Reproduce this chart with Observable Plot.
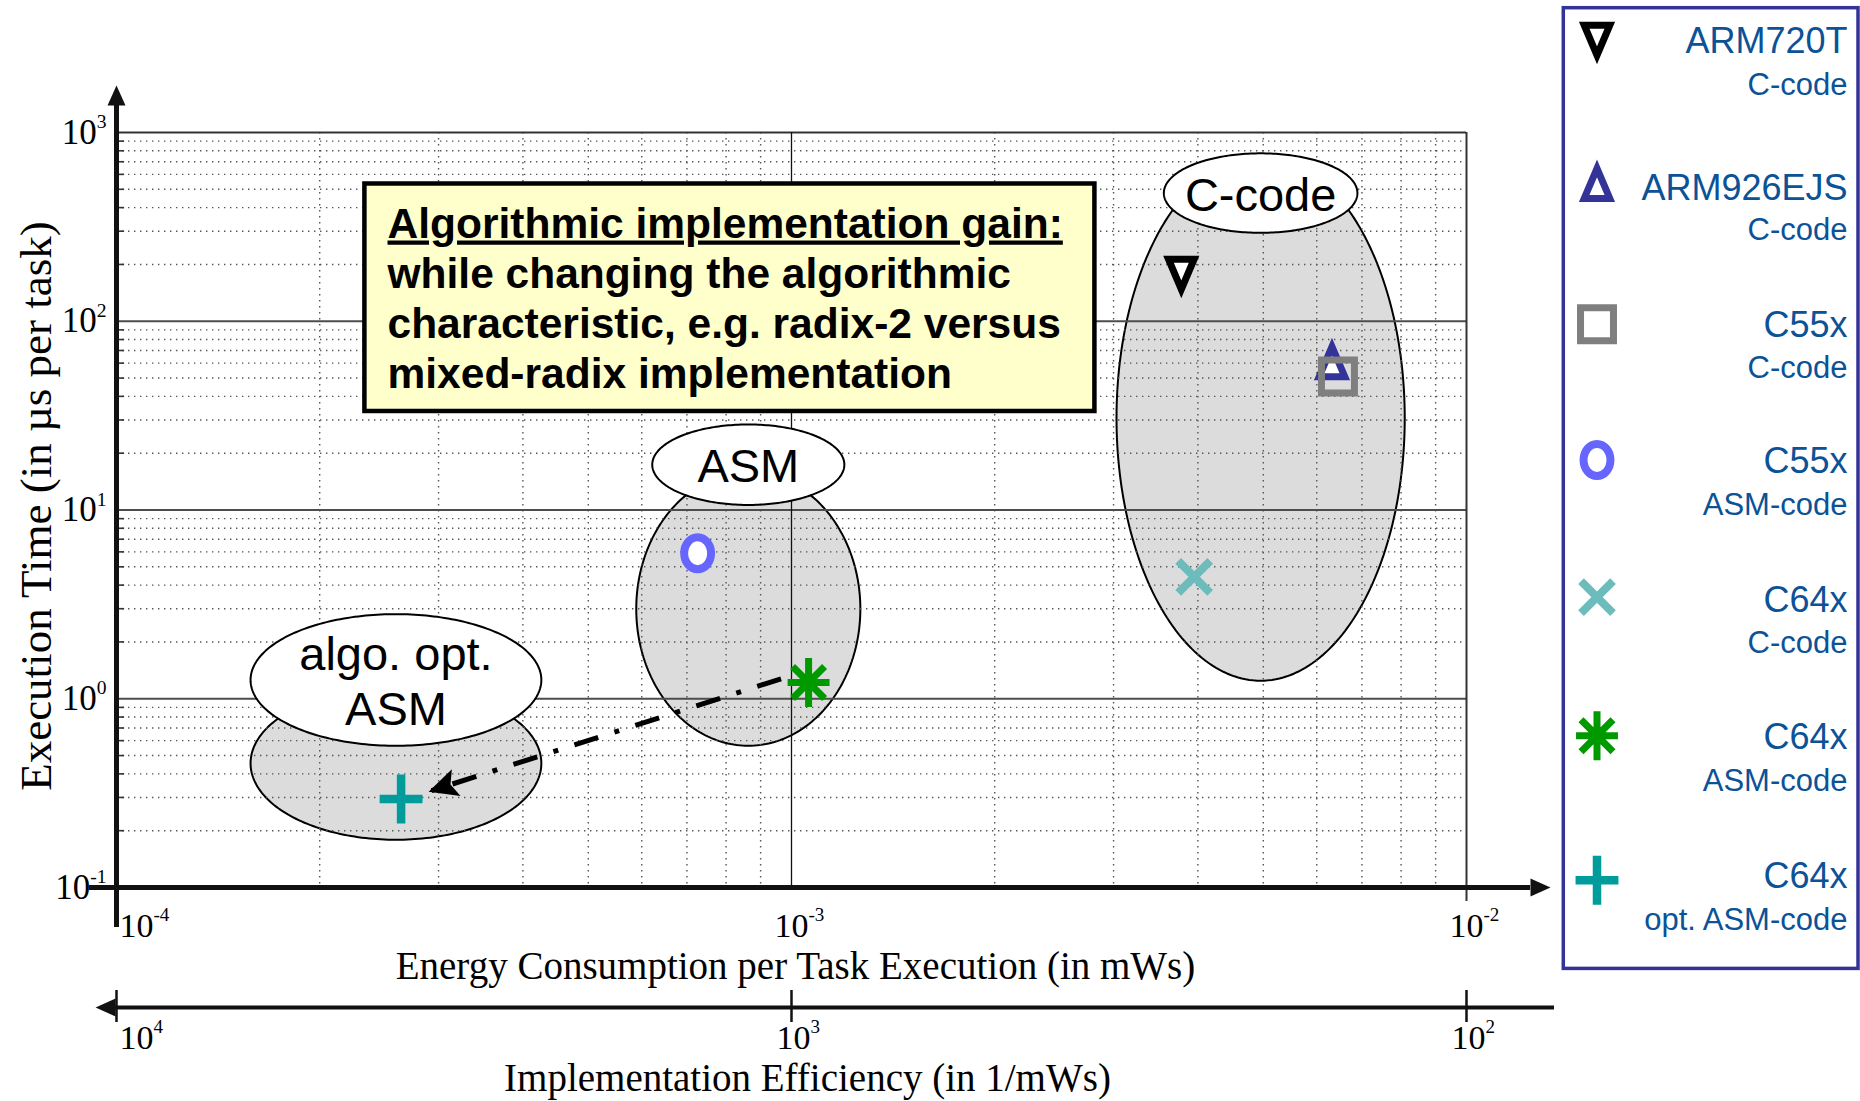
<!DOCTYPE html>
<html>
<head>
<meta charset="utf-8">
<script src="https://cdn.jsdelivr.net/npm/d3@7"></script>
<script src="https://cdn.jsdelivr.net/npm/@observablehq/plot@0.6"></script>
<style>
  html, body { margin: 0; padding: 0; background: #fff; }
  #chart { position: relative; width: 1860px; height: 1101px; overflow: hidden; }
  #chart > svg { display: block; }
  #legend { position: absolute; left: 1555px; top: 0; }
</style>
</head>
<body>
<div id="chart"></div>
<script>
// ---- Measurements: one entry per processor / code variant ----
const processors = ["ARM720T", "ARM926EJS", "C55x", "C55x", "C64x", "C64x", "C64x"];
const codeTypes  = ["C-code", "C-code", "C-code", "ASM-code", "C-code", "ASM-code", "opt. ASM-code"];
// energy per task execution (mWs)
const energy   = [3.78e-3, 6.32e-3, 6.45e-3, 7.26e-4, 3.95e-3, 1.06e-3, 2.64e-4];
// execution time (µs per task)
const execTime = [172, 63, 51, 5.9, 4.42, 1.22, 0.294];
const markerShapes = ["triangleDown", "triangleUp", "square", "ring", "cross", "asterisk", "plus"];
const markerColors = ["#000000", "#333399", "#7f7f7f", "#6666ff", "#6cbcbc", "#009900", "#009b9b"];
const markerFills  = ["white", "white", "none", "white", "none", "none", "none"];
const markerWidths = [7, 7, 7, 8, 8, 7, 8.5];

// ---- Clusters (centre in log10 units, half-extent in decades) ----
const clusterNames  = ["C-code", "ASM", "algo. opt.\nASM"];
const clusterLogE   = [-2.305, -3.064, -3.586];
const clusterLogT   = [1.487, 0.476, -0.342];
const clusterSpanE  = [0.2135, 0.166, 0.2154];
const clusterSpanT  = [1.3915, 0.725, 0.405];
const badgeLogT     = [2.679, 1.240, 0.0995];
const badgeSpanE    = [0.1434, 0.1423, 0.2154];
const badgeSpanT    = [0.2106, 0.2132, 0.3487];

// ---- Gain arrow: C64x ASM-code -> C64x opt. ASM-code ----
const gainFrom = {energy: 9.65e-4, time: 1.276};
const gainTo   = {energy: 2.90e-4, time: 0.322};

// ---- Axis ticks ----
const energyTicks = [1e-4, 1e-3, 1e-2];
const energyTickLabels = ["10^-4", "10^-3", "10^-2"];
const efficiencyTickLabels = ["10^4", "10^3", "10^2"];
const timeTicks = [0.1, 1, 10, 100, 1000];
const timeTickLabels = ["10^-1", "10^0", "10^1", "10^2", "10^3"];

// ---- Annotation ----
const noteTitle = "Algorithmic implementation gain:";
const noteBody = ["while changing the algorithmic", "characteristic, e.g. radix-2 versus", "mixed-radix implementation"];

// ---------------------------------------------------------------
// Marker shapes (size -> r = sqrt(size / PI))
const rOf = (s) => Math.sqrt(s / Math.PI);
const symbols = {
  triangleDown: {draw(c, s) { const r = rOf(s); c.moveTo(-0.8 * r, -1.1 * r); c.lineTo(0.8 * r, -1.1 * r); c.lineTo(0, 0.78 * r); c.closePath(); }},
  triangleUp:   {draw(c, s) { const r = rOf(s); c.moveTo(-0.8 * r, 1.1 * r); c.lineTo(0.8 * r, 1.1 * r); c.lineTo(0, -0.78 * r); c.closePath(); }},
  square:       {draw(c, s) { const h = 1.03 * rOf(s); c.moveTo(-h, -h); c.lineTo(h, -h); c.lineTo(h, h); c.lineTo(-h, h); c.closePath(); }},
  ring: {draw(c, s) {
    const r = rOf(s), rx = 0.84 * r, ry = r, k = 0.5523;
    c.moveTo(rx, 0);
    c.bezierCurveTo(rx, k * ry, k * rx, ry, 0, ry);
    c.bezierCurveTo(-k * rx, ry, -rx, k * ry, -rx, 0);
    c.bezierCurveTo(-rx, -k * ry, -k * rx, -ry, 0, -ry);
    c.bezierCurveTo(k * rx, -ry, rx, -k * ry, rx, 0);
    c.closePath();
  }},
  cross: {draw(c, s) { const r = rOf(s); c.moveTo(-r, -r); c.lineTo(r, r); c.moveTo(-r, r); c.lineTo(r, -r); }},
  asterisk: {draw(c, s) {
    const r = rOf(s);
    c.moveTo(0, -1.53 * r); c.lineTo(0, 1.53 * r);
    c.moveTo(-1.31 * r, 0); c.lineTo(1.31 * r, 0);
    c.moveTo(-r, -r); c.lineTo(r, r);
    c.moveTo(-r, r); c.lineTo(r, -r);
  }},
  plus: {draw(c, s) { const r = rOf(s); c.moveTo(0, -1.53 * r); c.lineTo(0, 1.53 * r); c.moveTo(-1.34 * r, 0); c.lineTo(1.34 * r, 0); }}
};
// Arrow heads, tip at the origin pointing to +x
const gainHead = {draw(c) { c.moveTo(0, 0); c.lineTo(-29, -14); c.lineTo(-23, 0); c.lineTo(-29, 14); c.closePath(); }};
const axisHead = {draw(c) { c.moveTo(0, 0); c.lineTo(-20, -9); c.lineTo(-20, 9); c.closePath(); }};

// ---------------------------------------------------------------
const points = processors.map((p, i) => ({processor: p, code: codeTypes[i], energy: energy[i], time: execTime[i]}));

function outline(logE, logT, spanE, spanT, key) {
  return d3.range(0, 240).map((k) => {
    const a = (k / 240) * 2 * Math.PI;
    return {key, energy: 10 ** (logE + spanE * Math.cos(a)), time: 10 ** (logT + spanT * Math.sin(a))};
  });
}
const clusterShapes = clusterNames.flatMap((n, i) => outline(clusterLogE[i], clusterLogT[i], clusterSpanE[i], clusterSpanT[i], n));
const badgeShapes = clusterNames.flatMap((n, i) => outline(clusterLogE[i], badgeLogT[i], badgeSpanE[i], badgeSpanT[i], n));
const badges = clusterNames.map((n, i) => ({name: n, energy: 10 ** clusterLogE[i], time: 10 ** badgeLogT[i]}));

// Grid positions: 2..9 within each decade
const minorEnergy = [1e-4, 1e-3].flatMap((d) => d3.range(2, 10).map((m) => m * d));
const minorTime = [0.1, 1, 10, 100].flatMap((d) => d3.range(2, 10).map((m) => m * d));

const sans = "Liberation Sans, Arial, Helvetica, sans-serif";
const serif = "Liberation Serif, Times New Roman, serif";

const chart = Plot.plot({
  width: 1860,
  height: 1101,
  marginLeft: 116,
  marginRight: 394,
  marginTop: 132,
  marginBottom: 214,
  style: {fontFamily: serif, background: "white", color: "black"},
  x: {type: "log", domain: [1e-4, 1e-2], axis: null},
  y: {type: "log", domain: [0.1, 1000], axis: null},
  marks: [
    // cluster regions
    Plot.line(clusterShapes, {x: "energy", y: "time", z: "key", curve: "linear-closed", fill: "#dcdcdc", stroke: "black", strokeWidth: 2}),
    // grid
    Plot.ruleY(minorTime, {stroke: "#555", strokeWidth: 1.4, strokeDasharray: "1.4,4.6"}),
    Plot.ruleX(minorEnergy, {stroke: "#555", strokeWidth: 1.4, strokeDasharray: "1.4,4.6"}),
    Plot.ruleY(minorTime, {x1: 1e-4, x2: 10 ** -3.988, stroke: "#333", strokeWidth: 1.6}),
    Plot.ruleY([1, 10, 100], {stroke: "#4d4d4d", strokeWidth: 2}),
    Plot.ruleY([1000], {stroke: "#333", strokeWidth: 2}),
    Plot.ruleX([1e-3], {stroke: "#111", strokeWidth: 1.3}),
    Plot.ruleX([1e-2], {y1: 10 ** -1.074, y2: 1000, stroke: "#333", strokeWidth: 2}),
    // cluster badges
    Plot.line(badgeShapes, {x: "energy", y: "time", z: "key", curve: "linear-closed", fill: "white", stroke: "black", strokeWidth: 2}),
    Plot.text(badges, {x: "energy", y: "time", text: "name", fontFamily: sans, fontSize: 47, lineHeight: 1.16}),
    // annotation box
    Plot.rect([noteTitle], {x1: 10 ** -3.632, x2: 10 ** -2.5505, y1: 10 ** 1.5219, y2: 10 ** 2.7272, fill: "#ffffcc", stroke: "black", strokeWidth: 4.5}),
    Plot.text([noteTitle], {x: 10 ** -3.5985, y: 10 ** 2.4437, textAnchor: "start", lineAnchor: "bottom", fontFamily: sans, fontWeight: "bold", fontSize: 42.5}),
    Plot.text([noteBody.join("\n")], {x: 10 ** -3.5985, y: 10 ** 1.649, textAnchor: "start", lineAnchor: "bottom", lineHeight: 50 / 42.5, fontFamily: sans, fontWeight: "bold", fontSize: 42.5}),
    // gain arrow
    Plot.link([gainFrom], {x1: "energy", y1: "time", x2: () => gainTo.energy, y2: () => gainTo.time, stroke: "black", strokeWidth: 5, strokeDasharray: "25,17,5,17"}),
    Plot.dot([gainTo], {x: "energy", y: "time", symbol: gainHead, r: 10, rotate: 162, fill: "black", stroke: "none"}),
    // measurements
    ...points.map((d, i) => Plot.dot([d], {
      x: "energy", y: "time", r: 16,
      symbol: symbols[markerShapes[i]],
      stroke: markerColors[i], fill: markerFills[i], strokeWidth: markerWidths[i],
      title: (d) => `${d.processor} ${d.code}`
    })),
    // main axes
    Plot.ruleY([0.1], {x1: 10 ** -4.04, x2: 10 ** -1.905, stroke: "#111", strokeWidth: 5}),
    Plot.dot([0], {x: 10 ** -1.8756, y: 0.1, symbol: axisHead, r: 10, fill: "#111", stroke: "none"}),
    Plot.ruleX([1e-4], {y1: 10 ** -1.212, y2: 10 ** 3.15, stroke: "#111", strokeWidth: 5}),
    Plot.dot([0], {x: 1e-4, y: 10 ** 3.249, symbol: axisHead, r: 10, rotate: -90, fill: "#111", stroke: "none"}),
    // efficiency axis (reciprocal of energy)
    Plot.ruleY([0.1], {x1: 10 ** -4.005, x2: 10 ** -1.8696, dy: 120, stroke: "#111", strokeWidth: 4}),
    Plot.dot([0], {x: 10 ** -4.031, y: 0.1, dy: 120, symbol: axisHead, r: 10, rotate: 180, fill: "#111", stroke: "none"}),
    Plot.ruleX(energyTicks, {y1: 10 ** -1.5457, y2: 10 ** -1.7152, stroke: "#111", strokeWidth: 2.5}),
    // tick labels
    Plot.text(timeTicks, {x: 1e-4, y: (d) => d, text: (d, i) => timeTickLabels[i], textAnchor: "end", dx: -10, fontSize: 35}),
    Plot.text(energyTicks.slice(0, 1), {x: (d) => d, y: 0.1, text: () => energyTickLabels[0], textAnchor: "start", lineAnchor: "bottom", dx: 3, dy: 49, fontSize: 34}),
    Plot.text(energyTicks.slice(1), {x: (d) => d, y: 0.1, text: (d, i) => energyTickLabels[i + 1], textAnchor: "start", lineAnchor: "bottom", dx: -17, dy: 49, fontSize: 34}),
    Plot.text(energyTicks.slice(0, 1), {x: (d) => d, y: 0.1, text: () => efficiencyTickLabels[0], textAnchor: "start", lineAnchor: "bottom", dx: 3, dy: 161, fontSize: 34}),
    Plot.text(energyTicks.slice(1), {x: (d) => d, y: 0.1, text: (d, i) => efficiencyTickLabels[i + 1], textAnchor: "start", lineAnchor: "bottom", dx: -15, dy: 161, fontSize: 34}),
    // axis titles
    Plot.text(["Energy Consumption per Task Execution (in mWs)"], {frameAnchor: "bottom", lineAnchor: "bottom", dx: 4, dy: 91, fontSize: 39}),
    Plot.text(["Implementation Efficiency (in 1/mWs)"], {frameAnchor: "bottom", lineAnchor: "bottom", dx: 16, dy: 203, fontSize: 39}),
    Plot.text(["Execution Time (in µs per task)"], {frameAnchor: "left", textAnchor: "middle", lineAnchor: "middle", rotate: -90, dx: -80, dy: -4, fontSize: 45})
  ]
});

// Powers of ten: split "10^k" into base and raised exponent
d3.select(chart).selectAll("text").each(function () {
  const m = /^10\^(.+)$/.exec(this.textContent);
  if (!m) return;
  const t = d3.select(this);
  this.textContent = "";
  t.append("tspan").text("10");
  t.append("tspan").attr("font-size", "0.56em").attr("dy", "-0.8em").text(m[1]);
});
// Underlined heading of the note
d3.select(chart).selectAll("text").filter(function () { return this.textContent === noteTitle; })
  .attr("text-decoration", "underline");

const root = document.getElementById("chart");
root.appendChild(chart);

// ---- Legend ----
const legendSymbolY = [42.8, 180.8, 324.3, 460, 597.2, 735.8, 880.3];
const legendLine1Y = [53.3, 200, 336.7, 473.3, 611.7, 749.3, 888.3];
const legendLine2Y = [95, 240, 378.3, 515, 652.7, 790.7, 930];
const legendLeft = 1555;
const legend = d3.select(root).append("svg")
  .attr("id", "legend").attr("width", 305).attr("height", 980)
  .attr("font-family", sans);
legend.append("rect")
  .attr("x", 1563.3 - legendLeft).attr("y", 7.7).attr("width", 294.7).attr("height", 960.7)
  .attr("fill", "none").attr("stroke", "#333399").attr("stroke-width", 3.5);
processors.forEach((p, i) => {
  const path = d3.path();
  symbols[markerShapes[i]].draw(path, Math.PI * 16 * 16);
  legend.append("path")
    .attr("transform", `translate(${1597 - legendLeft},${legendSymbolY[i]})`)
    .attr("d", path.toString())
    .attr("fill", markerFills[i]).attr("stroke", markerColors[i]).attr("stroke-width", markerWidths[i]);
  legend.append("text")
    .attr("x", 1847.5 - legendLeft).attr("y", legendLine1Y[i]).attr("text-anchor", "end")
    .attr("font-size", 36).attr("fill", "#0b5297").text(p);
  legend.append("text")
    .attr("x", 1847.5 - legendLeft).attr("y", legendLine2Y[i]).attr("text-anchor", "end")
    .attr("font-size", 31).attr("fill", "#0b5297").text(codeTypes[i]);
});
</script>
</body>
</html>
